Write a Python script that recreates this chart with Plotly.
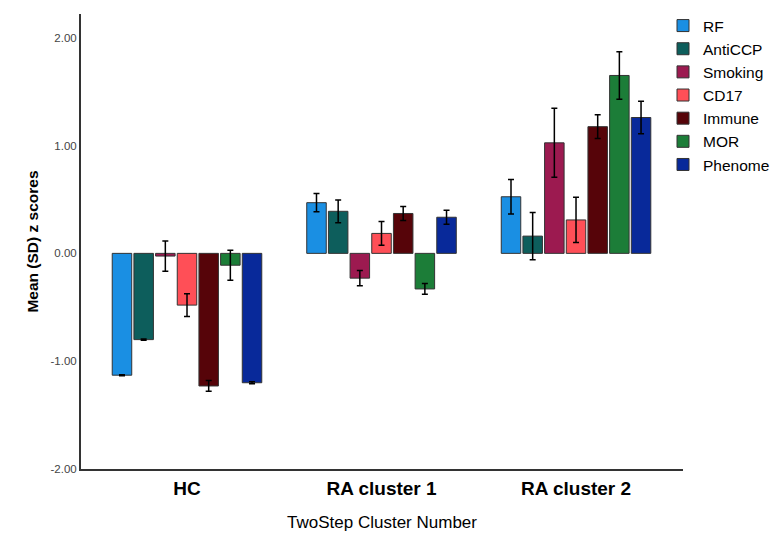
import plotly.graph_objects as go

categories = ["HC", "RA cluster 1", "RA cluster 2"]
series_names = ["RF", "AntiCCP", "Smoking", "CD17", "Immune", "MOR", "Phenome"]
colors = ["#1a8fe3", "#0d5e5c", "#9c1a50", "#ff4f57", "#560409", "#1c7d38", "#08299a"]

rf = [-1.13, 0.47, 0.525]
anticcp = [-0.80, 0.39, 0.16]
smoking = [-0.025, -0.23, 1.025]
cd17 = [-0.48, 0.185, 0.31]
immune = [-1.23, 0.37, 1.175]
mor = [-0.11, -0.33, 1.65]
phenome = [-1.20, 0.335, 1.26]

rf_err = [0.005, 0.085, 0.16]
anticcp_err = [0.005, 0.105, 0.22]
smoking_err = [0.14, 0.07, 0.32]
cd17_err = [0.105, 0.11, 0.21]
immune_err = [0.05, 0.065, 0.11]
mor_err = [0.14, 0.05, 0.22]
phenome_err = [0.01, 0.065, 0.15]

values = [rf, anticcp, smoking, cd17, immune, mor, phenome]
errors = [rf_err, anticcp_err, smoking_err, cd17_err, immune_err, mor_err, phenome_err]

fig = go.Figure()
for name, col, v, e in zip(series_names, colors, values, errors):
    fig.add_trace(go.Bar(
        name=name, x=categories, y=v,
        marker=dict(color=col, line=dict(color="#333333", width=1)),
        error_y=dict(type="data", array=e, visible=True, color="black", thickness=1.5, width=3),
    ))

fig.update_layout(
    width=782, height=533,
    margin=dict(l=81, r=99, t=14, b=64, autoexpand=False),
    paper_bgcolor="white", plot_bgcolor="white",
    barmode="group", bargap=0.22, bargroupgap=0.1,
    font=dict(family="Liberation Sans, Arial, sans-serif", color="black"),
    showlegend=True,
    legend=dict(x=663 / 782, y=1 - 9 / 533, xanchor="left", yanchor="top",
                xref="container", yref="container",
                font=dict(size=15.5, color="black"), bgcolor="rgba(0,0,0,0)",
                itemwidth=30, tracegroupgap=0),
)
fig.update_xaxes(
    range=[-0.545, 2.55], showline=True, linecolor="#333333", linewidth=2,
    showgrid=False, ticks="", automargin=False, ticklabelstandoff=1,
    tickfont=dict(size=19, family="Liberation Sans, Arial", color="black", weight="bold"),
    title=dict(text="TwoStep Cluster Number", font=dict(size=17), standoff=18),
)
fig.update_yaxes(
    range=[-2.0, 2.22], showline=True, linecolor="#333333", linewidth=2,
    showgrid=False, zeroline=False, ticks="", automargin=False,
    tickvals=[-2, -1, 0, 1, 2], ticktext=["-2.00", "-1.00", "0.00", "1.00", "2.00"],
    tickfont=dict(size=11.5, color="#444444"),
    title=dict(text="Mean (SD) z scores", font=dict(size=15.5, weight="bold"), standoff=8),
)

fig.write_html("out.html", post_script="document.body.style.margin='0';",
               config={"displayModeBar": False})
